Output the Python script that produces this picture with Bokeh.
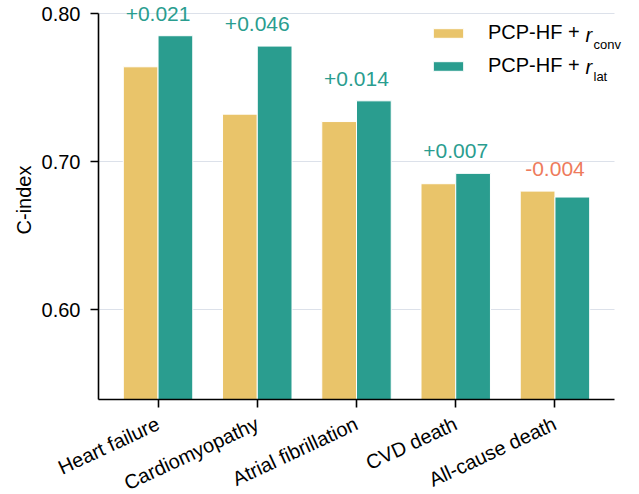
import numpy as np
from bokeh.plotting import figure
from bokeh.models import (ColumnDataSource, FixedTicker, Legend, LegendItem, Label,
                          NumeralTickFormatter, Range1d)
from bokeh.transform import dodge
from bokeh.embed import file_html
from bokeh.resources import INLINE

categories = ["Heart failure", "Cardiomyopathy", "Atrial fibrillation", "CVD death", "All-cause death"]
conv_values = [0.764, 0.732, 0.727, 0.685, 0.680]
lat_values = [0.785, 0.778, 0.741, 0.692, 0.676]
y_ticks = [0.60, 0.70, 0.80]

YELLOW = "#E9C46A"
TEAL = "#2A9D8F"
NEG = "#EE7B5C"
GRID = "#DCE1EA"
FONT = "Liberation Sans"

n = len(categories)
idx = list(range(n))
diff = np.round(np.array(lat_values) - np.array(conv_values), 3)
src = ColumnDataSource(dict(
    x=idx, conv=conv_values, lat=lat_values,
    top=np.maximum(conv_values, lat_values),
    label=[("+" if d >= 0 else "-") + f"{abs(d):.3f}" for d in diff],
    color=[TEAL if d >= 0 else NEG for d in diff],
))

x0, x1 = -0.6, n - 0.4          # axes extent in category units
y0, y1 = 0.5392, 0.80
# frame extends to the right edge of the canvas so that the legend text fits
frame_w = 541
x_end = x0 + (x1 - x0) * frame_w / 516.0

p = figure(frame_width=frame_w, frame_height=399, output_backend="svg", toolbar_location=None,
           x_range=Range1d(x0, x_end), y_range=Range1d(y0, 0.8088),
           min_border_left=98, min_border_right=0, min_border_top=0, min_border_bottom=95)
p.outline_line_color = None
p.xgrid.grid_line_color = None
p.ygrid.grid_line_color = None

# horizontal grid lines limited to the axes extent
p.segment(x0=[x0] * len(y_ticks), x1=[x1] * len(y_ticks), y0=y_ticks, y1=y_ticks,
          line_color=GRID, line_width=1, level="underlay")

bw = 0.35
r1 = p.vbar(x=dodge("x", -bw / 2), top="conv", bottom=0.5, width=bw, source=src,
            fill_color=YELLOW, line_color="white", line_width=1)
r2 = p.vbar(x=dodge("x", bw / 2), top="lat", bottom=0.5, width=bw, source=src,
            fill_color=TEAL, line_color="white", line_width=1)

p.text(x="x", y=dodge("top", 0.015), text="label", source=src, text_color="color",
       text_align="center", text_baseline="alphabetic", text_font_size="21px",
       text_font={"value": FONT})

# axes
for ax in (p.xaxis, p.yaxis):
    ax.axis_line_width = 1.6
    ax.axis_line_color = "black"
    ax.major_tick_line_width = 1.6
    ax.major_tick_line_color = "black"
    ax.major_tick_out = 8
    ax.major_tick_in = 0
    ax.minor_tick_line_color = None
    ax.major_label_text_font = FONT
    ax.major_label_text_color = "black"

p.yaxis.major_label_text_font_size = "20px"
p.xaxis.major_label_text_font_size = "20px"

p.yaxis.ticker = FixedTicker(ticks=y_ticks)
p.yaxis.formatter = NumeralTickFormatter(format="0.00")
p.yaxis.bounds = (y0, y1)
p.yaxis.major_label_standoff = 10
p.yaxis.axis_label = "C-index"
p.yaxis.axis_label_text_font = FONT
p.yaxis.axis_label_text_font_size = "20px"
p.yaxis.axis_label_text_font_style = "normal"
p.yaxis.axis_label_text_color = "black"
p.yaxis.axis_label_standoff = 4

p.xaxis.ticker = FixedTicker(ticks=idx)
p.xaxis.bounds = (x0, x1)
p.xaxis.major_label_overrides = {i: c for i, c in enumerate(categories)}
p.xaxis.major_label_orientation = np.deg2rad(25)
p.xaxis.major_label_standoff = 15

legend = Legend(items=[LegendItem(label="PCP-HF + ", renderers=[r1]),
                       LegendItem(label="PCP-HF + ", renderers=[r2])],
                location=(331, 322), glyph_width=38, glyph_height=12, label_height=22,
                label_standoff=21, spacing=10, padding=0, margin=0,
                border_line_color=None, background_fill_alpha=0,
                label_text_font=FONT, label_text_font_size="20px", label_text_color="black")
p.add_layout(legend)

# italic r with subscripts for legend entries (screen units relative to the frame)
text_x = 390 + 97
for yc, sub in ((365, "conv"), (333, "lat")):
    p.add_layout(Label(x=text_x, y=yc, x_units="screen", y_units="screen", text="r",
                       text_font=FONT, text_font_size="20px", text_font_style="italic",
                       text_baseline="middle", text_align="left", text_color="black"))
    p.add_layout(Label(x=text_x + 8, y=yc - 10, x_units="screen", y_units="screen", text=sub,
                       text_font=FONT, text_font_size="13px",
                       text_baseline="alphabetic", text_align="left", text_color="black"))

open("out.html", "w").write(file_html(p, INLINE))
